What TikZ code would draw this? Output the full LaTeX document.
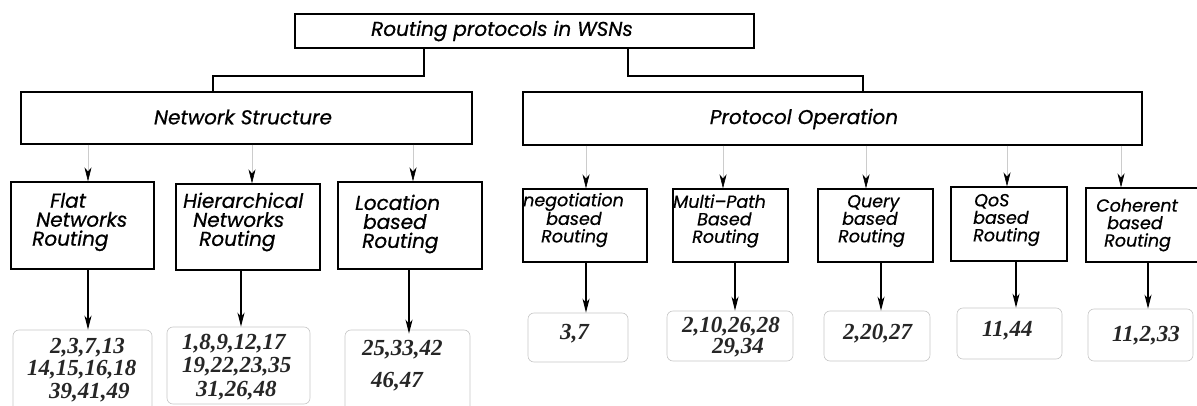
\documentclass[tikz,border=0pt]{standalone}
\usepackage{fontspec}
\setmainfont{Liberation Serif}
\newfontfamily\lblfont{Poppins}[FakeBold=0.6]
\usetikzlibrary{arrows.meta,calc}
\tikzset{
  box/.style={draw=black,line width=1.1pt,inner sep=0pt},
  lbox/.style={draw=gray!45,line width=0.6pt,rounded corners=6pt,inner sep=0pt},
  biglbl/.style={font=\lblfont\itshape\fontsize{20}{19}\selectfont,inner sep=0pt,align=left},
  smalllbl/.style={font=\lblfont\itshape\fontsize{17.5}{17.5}\selectfont,inner sep=0pt,align=left},
  numlbl/.style={font=\bfseries\itshape\fontsize{23}{22.5}\selectfont,text=black!85,inner sep=0pt,align=left},
  conn/.style={line width=1.1pt},
  garrow/.style={draw=gray!40,line width=0.6pt,-{Stealth[color=black,length=14pt,width=7pt,inset=4pt]}},
  barrow/.style={draw=black,line width=1.1pt,-{Stealth[length=14pt,width=7pt,inset=4pt]}}
}
\begin{document}
\begin{tikzpicture}[x=1pt,y=-1pt]
\useasboundingbox (0,0) rectangle (1197,406);
% top level
\node[box,minimum width=459,minimum height=34] (top) at (524.5,31) {};
\node[biglbl] (toplbl) at (502,31) {Routing protocols in WSNs};
% second level
\node[box,minimum width=451,minimum height=52] (ns) at (246.5,118) {};
\node[biglbl] (nslbl) at (243,117) {Network Structure};
\node[box,minimum width=619,minimum height=53] (po) at (832.5,118.5) {};
\node[biglbl] (polbl) at (804,119) {Protocol Operation};
% connectors top -> second level
\coordinate (ja) at (424,76);
\coordinate (jb) at (213,76);
\coordinate (jc) at (628,76);
\coordinate (jd) at (863,76);
\draw[conn] (top.south -| ja) -- (ja) -- (jb) -- (ns.north -| jb);
\draw[conn] (top.south -| jc) -- (jc) -- (jd) -- (po.north -| jd);
% third level boxes
\node[box,minimum width=143,minimum height=87] (flat) at (82.5,225.5) {};
\node[box,minimum width=144,minimum height=86] (hier) at (248,227) {};
\node[box,minimum width=144,minimum height=87] (loc) at (410,225.5) {};
\node[box,minimum width=124,minimum height=73] (neg) at (585,225.5) {};
\node[box,minimum width=115,minimum height=73] (mp) at (730.5,225.5) {};
\node[box,minimum width=115,minimum height=73] (qry) at (875.5,225.5) {};
\node[box,minimum width=116,minimum height=74] (qos) at (1009,224) {};
\node[box,minimum width=114,minimum height=74] (coh) at (1143,225) {};
% third level labels
\node[biglbl,anchor=west] (flatlbl) at (32,222) {\hspace*{18pt}Flat\\\hspace*{4pt}Networks\\Routing};
\node[biglbl,anchor=west] (hierlbl) at (183,222) {Hierarchical\\\hspace*{10pt}Networks\\\hspace*{16pt}Routing};
\node[biglbl,anchor=west] (loclbl) at (355,224) {Location\\\hspace*{8pt}based\\\hspace*{7pt}Routing};
\node[smalllbl,anchor=west] (neglbl) at (523,220) {negotiation\\\hspace*{23pt}based\\\hspace*{18pt}Routing};
\node[smalllbl,anchor=west] (mplbl) at (673,221) {Multi–Path\\\hspace*{24pt}Based\\\hspace*{19pt}Routing};
\node[smalllbl,anchor=west] (qrylbl) at (838,221) {\hspace*{9pt}Query\\\hspace*{4pt}based\\Routing};
\node[smalllbl,anchor=west] (qoslbl) at (973,220) {\hspace*{1pt}QoS\\based\\Routing};
\node[smalllbl,anchor=west] (cohlbl) at (1096,225) {Coherent\\\hspace*{11pt}based\\\hspace*{8pt}Routing};
% grey arrows second -> third level
\draw[garrow] ([xshift=5.5]flat.north |- ns.south) -- ([xshift=5.5]flat.north);
\draw[garrow] ([xshift=4]hier.north |- ns.south) -- ([xshift=4]hier.north);
\draw[garrow] ([xshift=3]loc.north |- ns.south) -- ([xshift=3]loc.north);
\draw[garrow] ([xshift=1]neg.north |- po.south) -- ([xshift=1]neg.north);
\draw[garrow] ([xshift=-7.5]mp.north |- po.south) -- ([xshift=-7.5]mp.north);
\draw[garrow] ([xshift=-9.5]qry.north |- po.south) -- ([xshift=-9.5]qry.north);
\draw[garrow] ([xshift=-2]qos.north |- po.south) -- ([xshift=-2]qos.north);
\draw[garrow] ([xshift=-22]coh.north |- po.south) -- ([xshift=-22]coh.north);
% list boxes
\node[lbox,minimum width=139,minimum height=84] (lflat) at (82.5,372) {};
\node[lbox,minimum width=143,minimum height=77] (lhier) at (238.5,365.5) {};
\node[lbox,minimum width=125,minimum height=84] (lloc) at (407.5,372) {};
\node[lbox,minimum width=100,minimum height=49] (l37) at (578,337.5) {};
\node[lbox,minimum width=126,minimum height=50] (lmp) at (730,336) {};
\node[lbox,minimum width=106,minimum height=50] (lqry) at (877,336) {};
\node[lbox,minimum width=105,minimum height=51] (lqos) at (1009.5,333.5) {};
\node[lbox,minimum width=105,minimum height=52] (lcoh) at (1140.5,335) {};
% list texts
\node[numlbl,anchor=west] (tflat) at (27,370) {\hspace*{23pt}2,3,7,13\\14,15,16,18\\\hspace*{22pt}39,41,49};
\node[numlbl,anchor=west,font=\bfseries\itshape\fontsize{23}{23.5}\selectfont] (thier) at (182,367) {1,8,9,12,17\\19,22,23,35\\\hspace*{14pt}31,26,48};
\node[numlbl,anchor=west,font=\bfseries\itshape\fontsize{23}{32}\selectfont] (tloc) at (362,366) {25,33,42\\\hspace*{9pt}46,47};
\node[numlbl,anchor=west] (t37) at (560,334) {3,7};
\node[numlbl,anchor=west,font=\bfseries\itshape\fontsize{23}{21}\selectfont] (tmp) at (682,337.5) {2,10,26,28\\\hspace*{30pt}29,34};
\node[numlbl,anchor=west] (tqry) at (843,334) {2,20,27};
\node[numlbl,anchor=west] (tqos) at (982,331) {11,44};
\node[numlbl,anchor=west] (tcoh) at (1112,336) {11,2,33};
% black arrows third level -> lists
\draw[barrow] ([xshift=5.5]flat.south) -- ([xshift=5.5]flat.south |- lflat.north) ;
\draw[barrow] ([xshift=-7]hier.south) -- ([xshift=-7]hier.south |- lhier.north);
\draw[barrow] ([xshift=-1]loc.south) -- ([xshift=-1,yshift=-4]loc.south |- lloc.north);
\draw[barrow] ([xshift=1]neg.south) -- ([xshift=1]neg.south |- l37.north);
\draw[barrow] ([xshift=4.5]mp.south) -- ([xshift=4.5]mp.south |- lmp.north);
\draw[barrow] ([xshift=5.5]qry.south) -- ([xshift=5.5]qry.south |- lqry.north);
\draw[barrow] ([xshift=7]qos.south) -- ([xshift=7]qos.south |- lqos.north);
\draw[barrow] ([xshift=5]coh.south) -- ([xshift=5]coh.south |- lcoh.north);
\end{tikzpicture}
\end{document}
